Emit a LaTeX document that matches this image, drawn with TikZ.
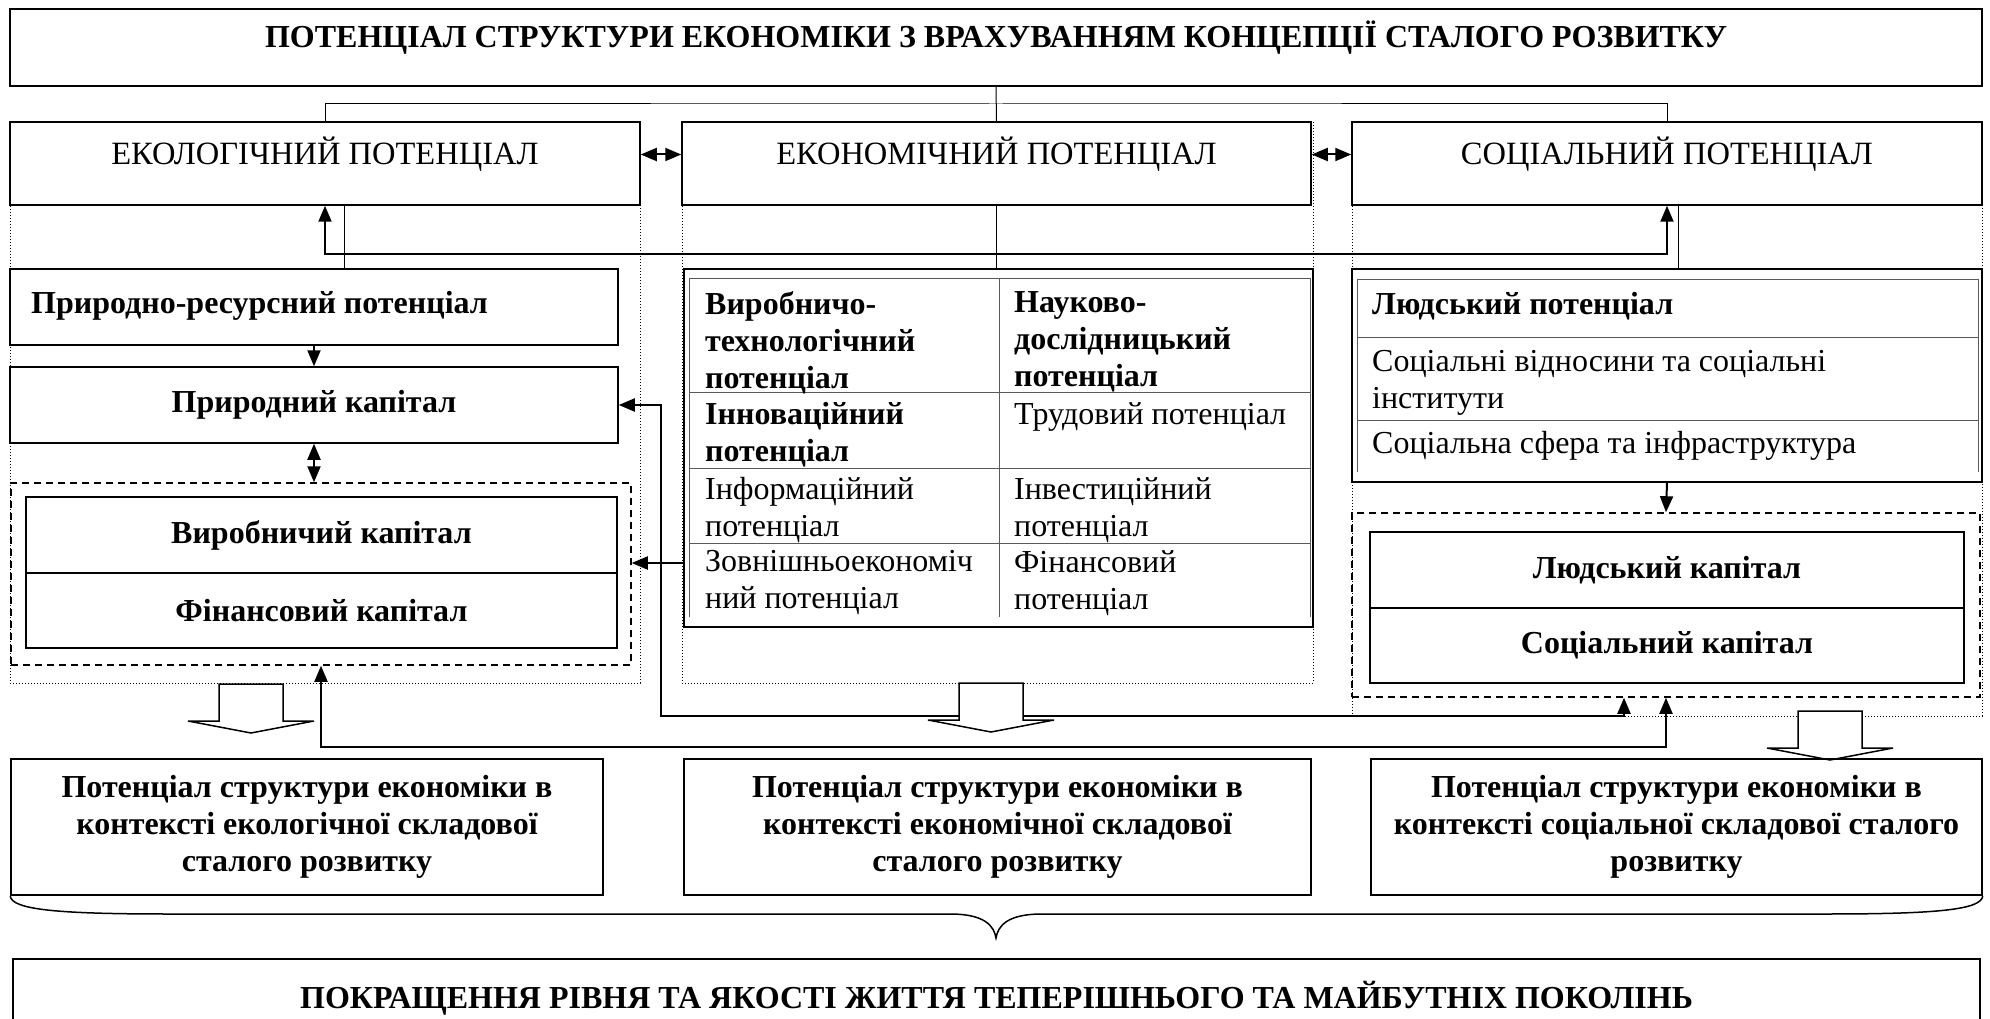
\documentclass[tikz,border=0pt]{standalone}
\usepackage{fontspec}
\setmainfont{Liberation Serif}
\usetikzlibrary{arrows.meta,calc}

\newcommand{\bigtitle}{\fontsize{32}{38}\selectfont\bfseries}
\newcommand{\headtxt}{\fontsize{32.5}{38}\selectfont}
\newcommand{\bodytxt}{\fontsize{32}{37}\selectfont}

\begin{document}
\begin{tikzpicture}[x=1pt,y=-1pt,
  box/.style={draw,line width=1.5pt,inner sep=0pt},
  dashbox/.style={draw,line width=1.5pt,dash pattern=on 7pt off 5pt,inner sep=0pt},
  link/.style={line width=1pt},
  conn/.style={line width=2pt,>={Triangle[length=16pt,width=13pt]}},
  column/.style={dotted,line width=1pt},
  hollow/.style={draw,line width=1.5pt,fill=white,line join=miter},
  grid/.style={gray!70!black,line width=1pt},
  cell/.style={anchor=north west,inner sep=0pt,align=left,font=\bodytxt}]
\useasboundingbox (0,0) rectangle (1990,1019);

% dotted columns
\draw[column] (10,122) rectangle (640,683);
\draw[column] (682,122) rectangle (1313,683);
\draw[column] (1352,122) rectangle (1982,716);

% top
\node[box,minimum width=1972pt,minimum height=77pt] (top) at (996,47.5) {};
\node[font=\bigtitle] (toptxt) at (996,38) {ПОТЕНЦІАЛ СТРУКТУРИ ЕКОНОМІКИ З ВРАХУВАННЯМ КОНЦЕПЦІЇ СТАЛОГО РОЗВИТКУ};

% three potentials
\node[box,minimum width=630pt,minimum height=83pt] (eco) at (325,163.5) {};
\node[box,minimum width=629pt,minimum height=83pt] (econ) at (996.5,163.5) {};
\node[box,minimum width=630pt,minimum height=83pt] (soc) at (1667,163.5) {};
\node[font=\headtxt] (ecotxt) at ($(eco)+(0,-9)$) {ЕКОЛОГІЧНИЙ ПОТЕНЦІАЛ};
\node[font=\headtxt] (econtxt) at ($(econ)+(0,-9)$) {ЕКОНОМІЧНИЙ ПОТЕНЦІАЛ};
\node[font=\headtxt] (soctxt) at ($(soc)+(0,-9)$) {СОЦІАЛЬНИЙ ПОТЕНЦІАЛ};

% left column
\node[box,minimum width=608pt,minimum height=76pt] (nr) at (314,307) {};
\node[cell,font=\bodytxt\bfseries] (nrtxt) at (31,291) {Природно-ресурсний потенціал};
\node[box,minimum width=608pt,minimum height=76pt,font=\bodytxt\bfseries] (nk) at (314,405) {Природний капітал};
\node[dashbox,minimum width=620pt,minimum height=182pt] (vfdash) at (321,574) {};
\node[box,minimum width=591pt,minimum height=76pt,font=\bodytxt\bfseries] (vk) at (321.5,535) {Виробничий капітал};
\node[box,minimum width=591pt,minimum height=75pt,font=\bodytxt\bfseries] (fk) at (321.5,610.5) {Фінансовий капітал};

% middle column
\node[box,minimum width=629pt,minimum height=358pt] (ectab) at (998.5,448) {};
\draw[grid] (689,617) -- (689,279) -- (1310,279) -- (1310,617);
\foreach \ry in {392,468,543} \draw[grid] (689,\ry) -- (1310,\ry);
\draw[grid] (999,279) -- (999,617);
\node[cell,font=\bodytxt\bfseries] (c11) at (705,291) {Виробничо-\\технологічний\\потенціал};
\node[cell,font=\bodytxt\bfseries] (c12) at (1014,291) {Науково-\\дослідницький\\потенціал};
\node[cell,font=\bodytxt\bfseries] (c21) at (705,402) {Інноваційний\\потенціал};
\node[cell] (c22) at (1014,402) {Трудовий потенціал};
\node[cell] (c31) at (705,477) {Інформаційний\\потенціал};
\node[cell] (c32) at (1014,477) {Інвестиційний\\потенціал};
\node[cell] (c41) at (705,550) {Зовнішньоекономіч\\ний потенціал};
\node[cell] (c42) at (1014,550) {Фінансовий\\потенціал};

% right column
\node[box,minimum width=630pt,minimum height=213pt] (socp) at (1667,375.5) {};
\draw[grid] (1357,472) -- (1357,280) -- (1978,280) -- (1978,472);
\foreach \ry in {337,420} \draw[grid] (1357,\ry) -- (1978,\ry);
\node[cell,font=\bodytxt\bfseries] (lp) at (1372,292) {Людський потенціал};
\node[cell] (sv) at (1372,350) {Соціальні відносини та соціальні\\інститути};
\node[cell] (sf) at (1372,431) {Соціальна сфера та інфраструктура};
\node[dashbox,minimum width=628pt,minimum height=184pt] (socdash) at (1666,605) {};
\node[box,minimum width=594pt,minimum height=76pt,font=\bodytxt\bfseries] (lk) at (1667,570) {Людський капітал};
\node[box,minimum width=594pt,minimum height=75pt,font=\bodytxt\bfseries] (sk) at (1667,645.5) {Соціальний капітал};

% links
\coordinate (tj) at (996,104);
\draw[link] (top.south) -- (econ.north);
\draw[link] (eco.north) |- (tj) -| (soc.north);
\draw[link] ([xshift=19pt]eco.south) -- ([xshift=30pt]nr.north);
\draw[link] (econ.south) -- (econ.south |- ectab.north);
\draw[link] ([xshift=11pt]soc.south) -- ([xshift=11pt]soc.south |- socp.north);

\draw[conn,<->] ([yshift=9pt]eco.east) -- ([yshift=9pt]econ.west);
\draw[conn,<->] ([yshift=9pt]econ.east) -- ([yshift=9pt]soc.west);
\draw[conn,<->] (eco.south) -- ++(0,48) -| (soc.south);

\draw[conn,->] (nr.south) -- (nk.north);
\draw[conn,<->] (nk.south) -- (nk.south |- vfdash.north);
\draw[conn,->] (socp.south) -- (socdash.north);

\coordinate (jn) at (661,563);
\coordinate (jlow) at (661,716);
\draw[conn,->] (ectab.west |- jn) -- (vfdash.east |- jn);
\draw[conn,->] (jn) |- (nk.east);
\draw[conn,->] (jn) -- (jlow) -| ([xshift=-42pt]socdash.south);
\draw[conn,<->] (vfdash.south) -- ++(0,81) -| (socdash.south);

% hollow arrows
\foreach \cx/\ty in {251/684,991/683,1830/711}
  \draw[hollow] (\cx-32,\ty) -- ++(64,0) -- ++(0,37) -- ++(31,0) -- (\cx,\ty+49)
    -- (\cx-63,\ty+37) -- ++(31,0) -- cycle;

% bottom row
\node[box,minimum width=592pt,minimum height=136pt,align=center,font=\bodytxt\bfseries] (b1) at (307,827)
  {Потенціал структури економіки в\\контексті екологічної складової\\сталого розвитку};
\node[box,minimum width=627pt,minimum height=136pt,align=center,font=\bodytxt\bfseries] (b2) at (997.5,827)
  {Потенціал структури економіки в\\контексті економічної складової\\сталого розвитку};
\node[box,minimum width=611pt,minimum height=136pt,align=center,font=\bodytxt\bfseries] (b3) at (1676.5,827)
  {Потенціал структури економіки в\\контексті соціальної складової сталого\\розвитку};

% brace
\draw[line width=1.5pt] (b1.south west) .. controls (11,910) and (60,914) .. (170,914)
  -- (950,914) .. controls (985,914) and (994,926) .. (996,938)
  .. controls (998,926) and (1007,914) .. (1042,914)
  -- (1825,914) .. controls (1935,914) and (1982,910) .. (b3.south east);

% goal
\node[box,minimum width=1967pt,minimum height=100pt] (goal) at (996.5,1009) {};
\node[font=\bodytxt\bfseries] (goaltxt) at (996.5,998) {ПОКРАЩЕННЯ РІВНЯ ТА ЯКОСТІ ЖИТТЯ ТЕПЕРІШНЬОГО ТА МАЙБУТНІХ ПОКОЛІНЬ};
\end{tikzpicture}
\end{document}
